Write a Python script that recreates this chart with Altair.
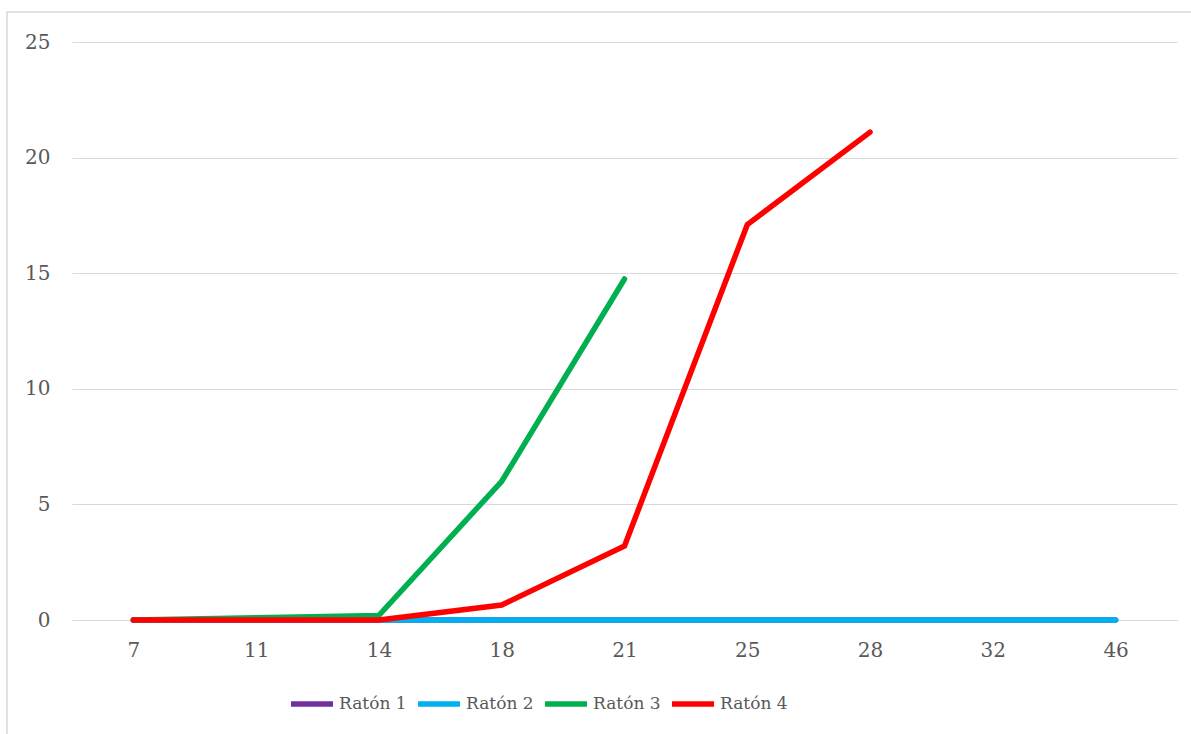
import altair as alt
import pandas as pd

days = ["7", "11", "14", "18", "21", "25", "28", "32", "46"]
raton1 = [0, 0, 0, 0, 0, 0, 0, 0, 0]
raton2 = [0, 0, 0, 0, 0, 0, 0, 0, 0]
raton3 = [0, 0.1, 0.2, 6.0, 14.75, None, None, None, None]
raton4 = [0, 0, 0, 0.65, 3.2, 17.1, 21.1, None, None]

series = {"Ratón 1": raton1, "Ratón 2": raton2, "Ratón 3": raton3, "Ratón 4": raton4}
colors = ["#7030A0", "#00B0F0", "#00B050", "#FF0000"]

rows = []
for name, vals in series.items():
    for d, v in zip(days, vals):
        if v is not None:
            rows.append({"day": d, "value": v, "serie": name})
df = pd.DataFrame(rows)

FONT = "DejaVu Serif"
TXT = "#595959"
W, H = 1105, 578

lines = alt.Chart(df).mark_line(strokeWidth=5.5, strokeCap="round").encode(
    x=alt.X("day:N", sort=days, scale=alt.Scale(paddingOuter=0.5),
            axis=alt.Axis(title=None, labelAngle=0, ticks=False, grid=False,
                          domainColor="#d9d9d9", labelPadding=20)),
    y=alt.Y("value:Q", scale=alt.Scale(domain=[0, 25], nice=False),
            axis=alt.Axis(title=None, values=[0, 5, 10, 15, 20, 25], domain=False,
                          ticks=False, gridColor="#d9d9d9", labelPadding=22)),
    color=alt.Color("serie:N", scale=alt.Scale(domain=list(series.keys()), range=colors),
                    legend=alt.Legend(title=None, orient="none", direction="horizontal",
                                      legendX=216, legendY=638, symbolType="stroke",
                                      symbolSize=1764, symbolStrokeWidth=5.5,
                                      labelOffset=3, columnPadding=0)),
)

border = alt.Chart(pd.DataFrame({"a": [0]})).mark_rect(
    fill="transparent", stroke="#d9d9d9", strokeWidth=1.5
).encode(
    x=alt.value(-65), x2=alt.value(W + 40), y=alt.value(-30), y2=alt.value(H + 140)
)

chart = alt.layer(border, lines).properties(
    width=W, height=H,
    padding={"left": 72, "top": 42, "right": 14, "bottom": 114},
    autosize=alt.AutoSizeParams(type="none"),
).configure_view(stroke=None).configure_axis(
    labelFont=FONT, labelFontSize=20, labelColor=TXT
).configure_legend(
    labelFont=FONT, labelFontSize=17, labelColor=TXT
)

chart.save("out.html", embed_options={"renderer": "svg", "actions": False})
